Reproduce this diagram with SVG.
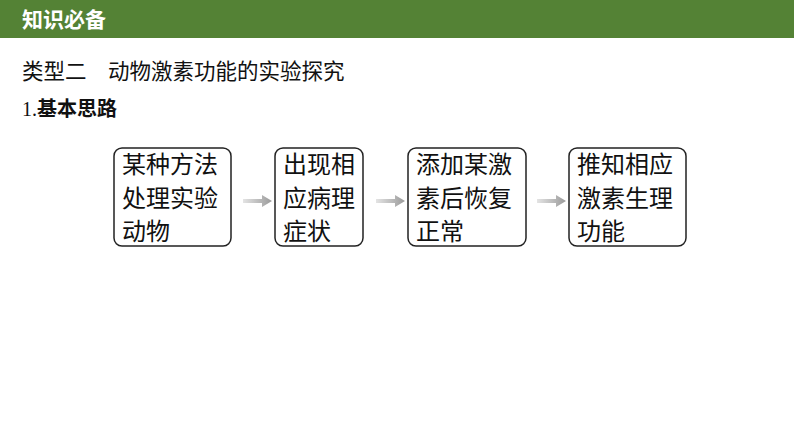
<svg xmlns="http://www.w3.org/2000/svg" width="794" height="447" viewBox="0 0 794 447">
<style>
.b{fill:#fff;stroke:#222;stroke-width:1.5}
.t{font-family:"Noto Sans CJK SC","Noto Sans CJK JP",sans-serif;font-size:24px;fill:#111}
.h{font-family:"Noto Sans CJK SC",sans-serif}
</style>
<defs>
<linearGradient id="g" x1="0" x2="1"><stop offset="0" stop-color="#e4e4e4"/><stop offset="1" stop-color="#9a9a9a"/></linearGradient>
</defs>
<rect width="794" height="447" fill="#fff"/>
<rect x="0" y="0" width="794" height="38" fill="#548235"/>
<text class="h" x="22" y="27" font-size="21" font-weight="bold" fill="#fff">知识必备</text>
<text class="h" x="22" y="79" font-size="21.5" fill="#111">类型二　动物激素功能的实验探究</text>
<text x="22" y="116" font-size="20" fill="#111"><tspan font-family="Liberation Serif">1.</tspan><tspan class="h" font-weight="bold">基本思路</tspan></text>
<g id="n1"><rect class="b" x="114" y="148" width="117" height="98" rx="8"/><text class="t" x="122" y="173">某种方法</text><text class="t" x="122" y="207">处理实验</text><text class="t" x="122" y="240">动物</text></g>
<g id="n2"><rect class="b" x="275" y="148" width="88" height="98" rx="8"/><text class="t" x="283" y="173">出现相</text><text class="t" x="283" y="207">应病理</text><text class="t" x="283" y="240">症状</text></g>
<g id="n3"><rect class="b" x="408" y="148" width="118" height="98" rx="8"/><text class="t" x="416" y="173">添加某激</text><text class="t" x="416" y="207">素后恢复</text><text class="t" x="416" y="240">正常</text></g>
<g id="n4"><rect class="b" x="569" y="148" width="117" height="98" rx="8"/><text class="t" x="577" y="173">推知相应</text><text class="t" x="577" y="207">激素生理</text><text class="t" x="577" y="240">功能</text></g>
<g id="edges">
<path d="M243 199h19v-4l10 6l-10 6v-4h-19z" fill="url(#g)"/>
<path d="M376 199h19v-4l10 6l-10 6v-4h-19z" fill="url(#g)"/>
<path d="M537 199h19v-4l10 6l-10 6v-4h-19z" fill="url(#g)"/>
</g>
</svg>
